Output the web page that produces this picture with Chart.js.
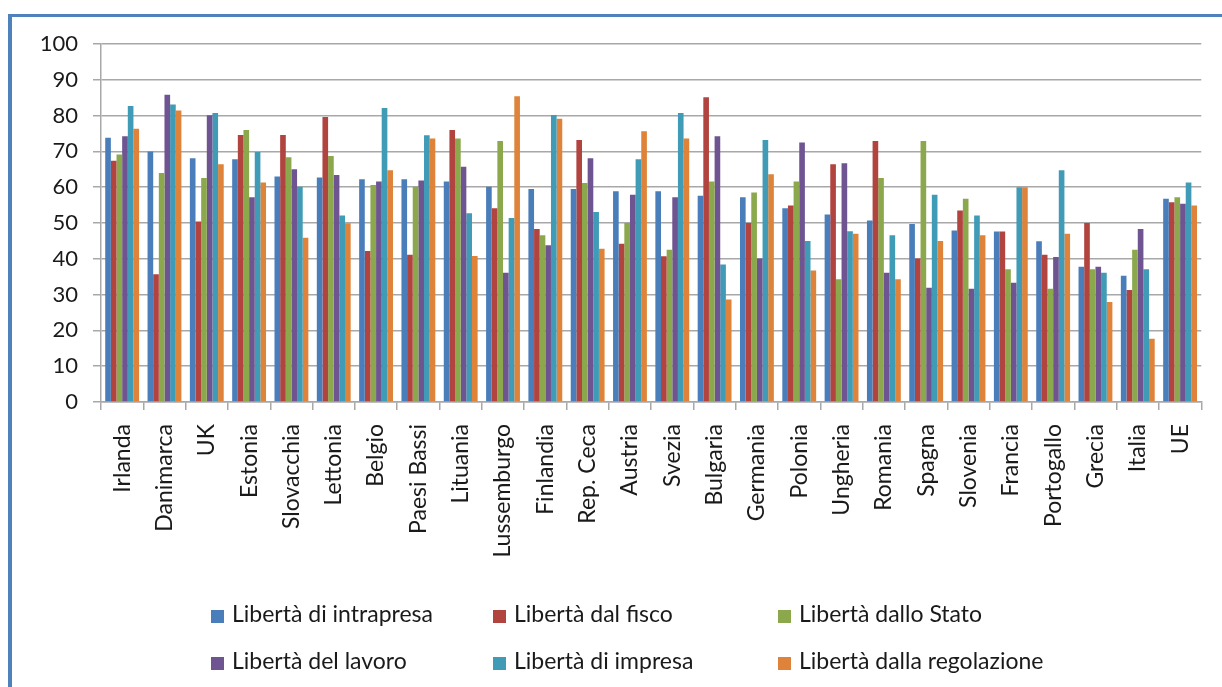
<!DOCTYPE html>
<html>
<head>
<meta charset="utf-8">
<script src="https://cdn.jsdelivr.net/npm/chart.js@4"></script>
<style>
  html, body { margin: 0; padding: 0; background: #fff; }
  #wrap { position: relative; width: 1222px; height: 687px; overflow: hidden; }
  #cornice { position: absolute; left: 8px; top: 14px; width: 1300px; height: 800px;
             border-left: 4px solid #4f81bd; border-top: 3px solid #4f81bd; }
  #grafico { position: absolute; left: 0; top: 0; }
  .voce { position: absolute; font-family: Lato, sans-serif; font-size: 23px; color: #1a1a1a;
          white-space: nowrap; line-height: 26px; }
  .voce span { display: inline-block; width: 13px; height: 13px; margin-right: 8px; vertical-align: -1px; }
</style>
</head>
<body>
<div id="wrap">
  <div id="cornice"></div>
  <canvas id="grafico" width="1222" height="687"></canvas>
  <div id="legenda"></div>
</div>
<script>
// Paesi (asse delle categorie)
const paesi = ['Irlanda', 'Danimarca', 'UK', 'Estonia', 'Slovacchia', 'Lettonia', 'Belgio', 'Paesi Bassi',
  'Lituania', 'Lussemburgo', 'Finlandia', 'Rep. Ceca', 'Austria', 'Svezia', 'Bulgaria', 'Germania',
  'Polonia', 'Ungheria', 'Romania', 'Spagna', 'Slovenia', 'Francia', 'Portogallo', 'Grecia', 'Italia', 'UE'];

// Indici per paese
const intrapresa = [73.8, 70.0, 68.1, 67.8, 63.0, 62.7, 62.2, 62.2, 61.6, 60.1, 59.5, 59.5, 58.9, 58.9, 57.6, 57.2,
  54.1, 52.4, 50.7, 49.7, 47.9, 47.6, 44.9, 37.8, 35.3, 56.8];
const fisco = [67.4, 35.7, 50.4, 74.6, 74.6, 79.6, 42.2, 41.1, 76.0, 54.1, 48.3, 73.2, 44.2, 40.7, 85.1, 50.0,
  54.9, 66.4, 72.9, 40.1, 53.5, 47.6, 41.1, 50.0, 31.3, 55.8];
const stato = [69.1, 64.0, 62.6, 76.0, 68.4, 68.7, 60.6, 60.1, 73.6, 72.9, 46.6, 61.2, 50.0, 42.5, 61.6, 58.5,
  61.6, 34.3, 62.6, 72.9, 56.8, 37.1, 31.6, 37.1, 42.5, 57.2];
const lavoro = [74.2, 85.8, 80.1, 57.2, 65.0, 63.4, 61.6, 61.9, 65.7, 36.1, 43.8, 68.1, 57.9, 57.2, 74.2, 40.1,
  72.5, 66.7, 36.1, 31.9, 31.6, 33.3, 40.5, 37.8, 48.3, 55.4];
const impresa = [82.7, 83.1, 80.7, 69.8, 60.1, 52.1, 82.1, 74.5, 52.7, 51.4, 80.2, 53.1, 67.8, 80.7, 38.4, 73.2,
  45.0, 47.7, 46.6, 57.9, 52.1, 60.0, 64.7, 36.1, 37.1, 61.3];
const regolazione = [76.3, 81.4, 66.4, 61.3, 45.9, 49.9, 64.7, 73.6, 40.8, 85.4, 79.1, 42.8, 75.6, 73.6, 28.6, 63.6,
  36.7, 47.0, 34.3, 45.0, 46.6, 60.0, 47.0, 27.9, 17.7, 54.9];

const tickY = [0, 10, 20, 30, 40, 50, 60, 70, 80, 90, 100];

const serie = [
  { nome: 'Libertà di intrapresa', dati: intrapresa, colore: '#4a7ebb' },
  { nome: 'Libertà dal fisco', dati: fisco, colore: '#b2443f' },
  { nome: 'Libertà dallo Stato', dati: stato, colore: '#8ba84d' },
  { nome: 'Libertà del lavoro', dati: lavoro, colore: '#6e5591' },
  { nome: 'Libertà di impresa', dati: impresa, colore: '#409bb6' },
  { nome: 'Libertà dalla regolazione', dati: regolazione, colore: '#de8339' }
];

const grigio = '#a8a8a8';

new Chart(document.getElementById('grafico'), {
  type: 'bar',
  data: {
    labels: paesi,
    datasets: serie.map(s => ({
      label: s.nome,
      data: s.dati,
      backgroundColor: s.colore,
      borderWidth: 0,
      categoryPercentage: 0.8,
      barPercentage: 1.0
    }))
  },
  options: {
    responsive: false,
    animation: false,
    layout: { padding: { left: 11, right: 16, top: 44, bottom: 0 } },
    plugins: { legend: { display: false }, tooltip: { enabled: false } },
    scales: {
      x: {
        offset: true,
        grid: { offset: true, drawOnChartArea: false, drawTicks: true, tickLength: 8, color: grigio, lineWidth: 1.5 },
        border: { color: grigio, width: 1.5 },
        ticks: { autoSkip: false, minRotation: 90, maxRotation: 90, padding: 14, color: '#1a1a1a',
                 font: { family: 'Lato, sans-serif', size: 23 } },
        afterFit: s => { s.height = 285; }
      },
      y: {
        min: 0, max: 100,
        afterBuildTicks: s => { s.ticks = tickY.map(v => ({ value: v })); },
        grid: { color: grigio, lineWidth: 1.5, tickLength: 8 },
        border: { color: grigio, width: 1.5 },
        ticks: { padding: 15, color: '#1a1a1a', font: { family: 'Lato, sans-serif', size: 22 } },
        afterFit: s => { s.width = 90; }
      }
    }
  }
});

// Legenda su due righe e tre colonne
const colonne = [211, 493, 778];
const righe = [600, 647];
const legenda = document.getElementById('legenda');
serie.forEach((s, i) => {
  const d = document.createElement('div');
  d.className = 'voce';
  d.style.left = colonne[i % 3] + 'px';
  d.style.top = righe[Math.floor(i / 3)] + 'px';
  d.innerHTML = '<span style="background:' + s.colore + '"></span>' + s.nome;
  legenda.appendChild(d);
});
</script>
</body>
</html>
